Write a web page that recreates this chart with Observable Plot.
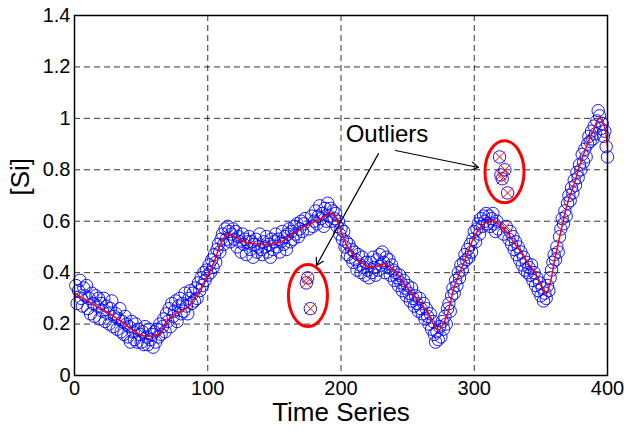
<!DOCTYPE html>
<html><head><meta charset="utf-8">
<script src="https://cdn.jsdelivr.net/npm/d3@7"></script>
<script src="https://cdn.jsdelivr.net/npm/@observablehq/plot@0.6"></script>
<style>body{margin:0;background:#fff;} svg{display:block;}</style>
</head><body><div id="chart"></div><script>
// Measured [Si] values, time steps 1..400
const siValues = [
  0.35, 0.28, 0.33, 0.37, 0.30, 0.27, 0.34, 0.31, 0.35, 0.26,
  0.30, 0.24, 0.32, 0.28, 0.23, 0.31, 0.27, 0.30, 0.22, 0.28,
  0.25, 0.30, 0.21, 0.27, 0.24, 0.20, 0.26, 0.29, 0.19, 0.23,
  0.24, 0.18, 0.22, 0.26, 0.17, 0.21, 0.16, 0.23, 0.20, 0.15,
  0.19, 0.13, 0.21, 0.17, 0.14, 0.20, 0.13, 0.18, 0.16, 0.13,
  0.17, 0.12, 0.19, 0.15, 0.12, 0.18, 0.14, 0.16, 0.11, 0.17,
  0.13, 0.18, 0.15, 0.20, 0.16, 0.19, 0.22, 0.17, 0.24, 0.21,
  0.26, 0.19, 0.28, 0.23, 0.25, 0.29, 0.21, 0.27, 0.30, 0.24,
  0.28, 0.25, 0.32, 0.27, 0.24, 0.30, 0.33, 0.28, 0.32, 0.29,
  0.34, 0.30, 0.36, 0.33, 0.38, 0.35, 0.40, 0.37, 0.41, 0.39,
  0.43, 0.40, 0.45, 0.42, 0.47, 0.44, 0.49, 0.51, 0.48, 0.53,
  0.55, 0.51, 0.57, 0.53, 0.58, 0.56, 0.52, 0.55, 0.57, 0.53,
  0.56, 0.50, 0.54, 0.52, 0.48, 0.55, 0.51, 0.53, 0.47, 0.52,
  0.54, 0.49, 0.52, 0.46, 0.51, 0.53, 0.48, 0.50, 0.55, 0.49,
  0.47, 0.52, 0.50, 0.54, 0.48, 0.51, 0.46, 0.53, 0.49, 0.52,
  0.55, 0.50, 0.53, 0.48, 0.52, 0.56, 0.51, 0.54, 0.49, 0.55,
  0.57, 0.52, 0.56, 0.53, 0.58, 0.55, 0.59, 0.54, 0.57, 0.60,
  0.56, 0.59, 0.61, 0.36, 0.38, 0.57, 0.26, 0.62, 0.58, 0.60,
  0.64, 0.59, 0.62, 0.66, 0.61, 0.63, 0.58, 0.65, 0.60, 0.67,
  0.62, 0.65, 0.60, 0.64, 0.61, 0.63, 0.58, 0.60, 0.55, 0.57,
  0.53, 0.56, 0.50, 0.52, 0.47, 0.51, 0.46, 0.49, 0.44, 0.48,
  0.45, 0.41, 0.47, 0.43, 0.40, 0.46, 0.42, 0.39, 0.44, 0.41,
  0.38, 0.44, 0.40, 0.46, 0.42, 0.39, 0.45, 0.41, 0.47, 0.43,
  0.48, 0.44, 0.40, 0.46, 0.42, 0.45, 0.39, 0.43, 0.41, 0.37,
  0.40, 0.38, 0.35, 0.39, 0.36, 0.33, 0.37, 0.34, 0.31, 0.35,
  0.32, 0.29, 0.34, 0.30, 0.27, 0.31, 0.28, 0.25, 0.30, 0.26,
  0.24, 0.28, 0.22, 0.26, 0.23, 0.20, 0.24, 0.18, 0.21, 0.16,
  0.13, 0.17, 0.14, 0.19, 0.15, 0.21, 0.18, 0.23, 0.20, 0.26,
  0.28, 0.25, 0.31, 0.34, 0.32, 0.37, 0.35, 0.40, 0.38, 0.43,
  0.41, 0.44, 0.47, 0.45, 0.49, 0.46, 0.51, 0.48, 0.53, 0.56,
  0.52, 0.57, 0.59, 0.55, 0.61, 0.58, 0.62, 0.60, 0.63, 0.59,
  0.62, 0.58, 0.61, 0.63, 0.59, 0.56, 0.60, 0.57, 0.85, 0.78,
  0.765, 0.55, 0.80, 0.58, 0.71, 0.53, 0.56, 0.51, 0.54, 0.49,
  0.52, 0.47, 0.50, 0.45, 0.48, 0.43, 0.46, 0.41, 0.44, 0.40,
  0.42, 0.39, 0.43, 0.37, 0.40, 0.35, 0.38, 0.33, 0.36, 0.31,
  0.34, 0.29, 0.32, 0.30, 0.35, 0.33, 0.38, 0.41, 0.44, 0.47,
  0.45, 0.50, 0.48, 0.54, 0.57, 0.61, 0.59, 0.64, 0.62, 0.67,
  0.70, 0.68, 0.73, 0.71, 0.76, 0.74, 0.79, 0.77, 0.82, 0.80,
  0.86, 0.83, 0.88, 0.85, 0.90, 0.93, 0.91, 0.95, 0.92, 0.97,
  0.94, 0.99, 1.03, 1.01, 0.96, 0.98, 0.93, 0.95, 0.89, 0.85
];
// Time steps flagged as outliers (red crosses)
const outlierT = [174, 175, 177, 319, 320, 321, 323, 324, 325];
// Fitted (red) curve
const fitT = [0,5,10,15,20,25,30,35,40,45,50,55,60,65,70,75,80,85,90,95,100,105,110,115,120,125,130,135,140,145,150,155,160,165,170,175,180,185,190,193,195,200,205,210,215,220,225,230,233,237,240,245,250,255,260,265,270,273,275,280,285,290,295,300,305,310,314,320,325,330,335,340,345,350,354,357,360,365,370,375,380,385,390,394,397,400];
const fitV = [0.32,0.305,0.29,0.275,0.26,0.245,0.228,0.21,0.19,0.172,0.158,0.152,0.155,0.168,0.215,0.238,0.25,0.265,0.30,0.34,0.39,0.445,0.515,0.55,0.54,0.525,0.515,0.513,0.51,0.51,0.513,0.52,0.535,0.555,0.572,0.585,0.598,0.61,0.625,0.632,0.625,0.56,0.50,0.465,0.44,0.425,0.42,0.43,0.435,0.422,0.41,0.375,0.34,0.31,0.28,0.245,0.195,0.175,0.185,0.24,0.345,0.41,0.475,0.54,0.578,0.598,0.603,0.58,0.555,0.515,0.48,0.44,0.405,0.35,0.318,0.36,0.44,0.56,0.67,0.745,0.83,0.90,0.96,1.0,0.98,0.89];
// Axis ticks
const xTicks = [0, 100, 200, 300, 400];
const xTickLabels = ["0", "100", "200", "300", "400"];
const yTicks = [0, 0.2, 0.4, 0.6, 0.8, 1, 1.2, 1.4];
const yTickLabels = ["0", "0.2", "0.4", "0.6", "0.8", "1", "1.2", "1.4"];
// Annotations (data units)
const ellipseT = [175.2, 322.7];
const ellipseV = [0.311, 0.792];
const arrowT1 = [228.1, 240.9], arrowV1 = [0.863, 0.875];
const arrowT2 = [181.6, 303.2], arrowV2 = [0.428, 0.809];
const labelText = ["Outliers"], labelT = [234.5], labelV = [0.937];

const points = siValues.map((v, i) => ({t: i + 1, v}));
const outliers = points.filter(d => outlierT.includes(d.t));
const fit = fitT.map((t, i) => ({t, v: fitV[i]}));
const ellipses = ellipseT.map((t, i) => ({t, v: ellipseV[i]}));
const arrows = arrowT1.map((t, i) => ({x1: t, y1: arrowV1[i], x2: arrowT2[i], y2: arrowV2[i]}));
const labels = labelText.map((s, i) => ({s, t: labelT[i], v: labelV[i]}));

const ellipseSymbol = {
  draw(ctx, size) {
    const ry = Math.sqrt(size / Math.PI), rx = ry * 0.63, k = 0.5523;
    ctx.moveTo(0, -ry);
    ctx.bezierCurveTo(k * rx, -ry, rx, -k * ry, rx, 0);
    ctx.bezierCurveTo(rx, k * ry, k * rx, ry, 0, ry);
    ctx.bezierCurveTo(-k * rx, ry, -rx, k * ry, -rx, 0);
    ctx.bezierCurveTo(-rx, -k * ry, -k * rx, -ry, 0, -ry);
    ctx.closePath();
  }
};

const font = "'Liberation Sans', Arial, Helvetica, sans-serif";
const chart = Plot.plot({
  width: 624, height: 434,
  marginLeft: 74, marginRight: 17, marginTop: 15, marginBottom: 59,
  style: {fontFamily: font, background: "#fff", color: "#000", overflow: "visible"},
  x: {domain: [0, 400]},
  y: {domain: [0, 1.4]},
  marks: [
    Plot.gridX(xTicks, {stroke: "#000", strokeOpacity: 0.8, strokeDasharray: "6,4", strokeWidth: 1}),
    Plot.gridY(yTicks, {stroke: "#000", strokeOpacity: 0.8, strokeDasharray: "6,4", strokeWidth: 1}),
    Plot.dot(points, {x: "t", y: "v", r: 6.2, stroke: "#0000ff", strokeWidth: 0.9, fill: "none"}),
    Plot.line(fit, {x: "t", y: "v", stroke: "#ff0000", strokeWidth: 1.5, curve: "catmull-rom"}),
    Plot.dot(outliers, {x: "t", y: "v", symbol: "times", r: 5, stroke: "#ff0000", strokeWidth: 1}),
    Plot.dot(ellipses, {x: "t", y: "v", r: 31, symbol: ellipseSymbol, stroke: "#ff0000", strokeWidth: 3, fill: "none"}),
    Plot.arrow(arrows, {x1: "x1", y1: "y1", x2: "x2", y2: "y2", stroke: "#000", strokeWidth: 1.2, headLength: 10}),
    Plot.text(labels, {x: "t", y: "v", text: "s", fontSize: 24, fill: "#000", textAnchor: "middle"}),
    Plot.frame({stroke: "#000", strokeWidth: 1.5}),
    Plot.axisX({ticks: xTicks, tickSize: 0, tickPadding: 5, fontSize: 20, label: null,
      tickFormat: d => xTickLabels[xTicks.indexOf(d)]}),
    Plot.axisY({ticks: yTicks, tickSize: 0, tickPadding: 4, fontSize: 20, label: null,
      tickFormat: d => yTickLabels[yTicks.indexOf(d)]}),
    Plot.text(["Time Series"], {frameAnchor: "bottom", dy: 45, fontSize: 26, fill: "#000"}),
    Plot.text(["[Si]"], {frameAnchor: "left", dx: -54, rotate: -90, fontSize: 26, fill: "#000"})
  ]
});
document.getElementById("chart").appendChild(chart);
</script></body></html>
